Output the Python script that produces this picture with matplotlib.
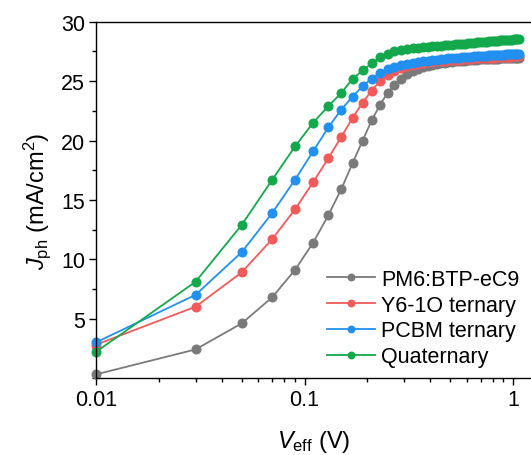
import matplotlib
matplotlib.use('Agg')
import matplotlib.pyplot as plt
from matplotlib.ticker import MultipleLocator, LogLocator, NullFormatter, FixedLocator, FixedFormatter

plt.rcParams['font.family'] = 'Liberation Sans'
plt.rcParams['mathtext.fontset'] = 'custom'
plt.rcParams['mathtext.rm'] = 'Liberation Sans'
plt.rcParams['mathtext.it'] = 'Liberation Sans:italic'

# effective voltage (V)
v_eff = [0.01, 0.03, 0.05, 0.07, 0.09, 0.11, 0.13, 0.15, 0.17, 0.19,
         0.21, 0.23, 0.25, 0.27, 0.29, 0.31, 0.33, 0.35, 0.37, 0.39,
         0.41, 0.43, 0.45, 0.47, 0.49, 0.51, 0.53, 0.55, 0.57, 0.59,
         0.61, 0.63, 0.65, 0.67, 0.69, 0.71, 0.73, 0.75, 0.77, 0.79,
         0.81, 0.83, 0.85, 0.87, 0.89, 0.91, 0.93, 0.95, 0.97, 0.99,
         1.01, 1.03, 1.05, 1.07]

# photocurrent density (mA/cm2)
j_binary = [0.3, 2.4, 4.6, 6.8, 9.1, 11.4, 13.7, 15.9, 18.1, 20.0,
            21.7, 23.0, 24.0, 24.7, 25.2, 25.6, 25.85, 26.05, 26.2, 26.3,
            26.38, 26.45, 26.5, 26.55, 26.6, 26.63, 26.66, 26.69, 26.72, 26.74,
            26.76, 26.78, 26.8, 26.81, 26.83, 26.84, 26.85, 26.86, 26.87, 26.88,
            26.89, 26.9, 26.9, 26.91, 26.92, 26.92, 26.93, 26.94, 26.95, 26.95,
            26.96, 26.97, 26.97, 26.98]
j_y6 = [2.8, 6.0, 8.9, 11.7, 14.2, 16.5, 18.5, 20.3, 21.9, 23.2,
        24.2, 25.0, 25.5, 25.85, 26.1, 26.25, 26.35, 26.45, 26.52, 26.58,
        26.63, 26.67, 26.7, 26.73, 26.76, 26.78, 26.8, 26.82, 26.84, 26.86,
        26.88, 26.9, 26.91, 26.92, 26.93, 26.94, 26.95, 26.96, 26.97, 26.98,
        26.99, 27.0, 27.01, 27.02, 27.03, 27.04, 27.05, 27.06, 27.07, 27.08,
        27.09, 27.1, 27.1, 27.11]
j_pcbm = [3.0, 7.0, 10.6, 13.9, 16.7, 19.1, 21.1, 22.6, 23.7, 24.6,
          25.2, 25.7, 26.0, 26.2, 26.35, 26.45, 26.55, 26.62, 26.68, 26.73,
          26.77, 26.81, 26.85, 26.88, 26.91, 26.94, 26.97, 26.99, 27.01, 27.03,
          27.05, 27.07, 27.09, 27.1, 27.12, 27.13, 27.15, 27.16, 27.17, 27.18,
          27.19, 27.2, 27.21, 27.22, 27.23, 27.24, 27.25, 27.26, 27.27, 27.28,
          27.29, 27.3, 27.31, 27.32]
j_quat = [2.2, 8.1, 12.9, 16.7, 19.5, 21.5, 22.9, 24.0, 25.2, 25.9,
          26.5, 27.0, 27.3, 27.5, 27.62, 27.7, 27.76, 27.81, 27.85, 27.89,
          27.92, 27.95, 27.98, 28.01, 28.04, 28.07, 28.1, 28.12, 28.15, 28.17,
          28.2, 28.22, 28.24, 28.26, 28.28, 28.3, 28.32, 28.34, 28.35, 28.37,
          28.38, 28.4, 28.41, 28.43, 28.44, 28.45, 28.47, 28.48, 28.49, 28.5,
          28.51, 28.52, 28.53, 28.54]

labels = ['PM6:BTP-eC9', 'Y6-1O ternary', 'PCBM ternary', 'Quaternary']
colors = ['#7a7a7a', '#f05a5a', '#2290f0', '#14a84c']
y_ticks = [5, 10, 15, 20, 25, 30]

fig = plt.figure(figsize=(5.31, 4.56), dpi=100)
ax = fig.add_axes([0.181, 0.169, 0.819, 0.781])

for ys, lab, c in zip([j_binary, j_y6, j_pcbm, j_quat], labels, colors):
    ax.plot(v_eff, ys, '-o', color=c, lw=1.3, ms=6.2, label=lab, clip_on=False)

ax.set_xscale('log')
ax.set_xlim(0.01, 1.22)
ax.set_ylim(0, 30)
ax.yaxis.set_major_locator(FixedLocator(y_ticks))
ax.yaxis.set_minor_locator(MultipleLocator(2.5))
ax.xaxis.set_major_locator(FixedLocator([0.01, 0.1, 1]))
ax.xaxis.set_major_formatter(FixedFormatter(['0.01', '0.1', '1']))
ax.xaxis.set_minor_locator(LogLocator(base=10, subs=range(2, 10)))
ax.xaxis.set_minor_formatter(NullFormatter())

ax.spines['right'].set_visible(False)
for s in ax.spines.values():
    s.set_linewidth(1.0)
ax.tick_params(which='major', direction='out', length=5, width=1, labelsize=15.5, pad=3)
ax.tick_params(which='minor', direction='out', length=3, width=1)

ax.set_xlabel(r'$V_\mathrm{eff}$ (V)', fontsize=17, labelpad=13)
ax.set_ylabel(r'$J_\mathrm{ph}$ (mA/cm$^2$)', fontsize=17, labelpad=6)

ax.legend(loc='lower right', frameon=False, fontsize=15.5, handlelength=2.2,
          handletextpad=0.3, labelspacing=0.22, borderaxespad=0.3,
          markerscale=0.75, bbox_to_anchor=(1.008, -0.012))

fig.savefig('out.png', dpi=100)
